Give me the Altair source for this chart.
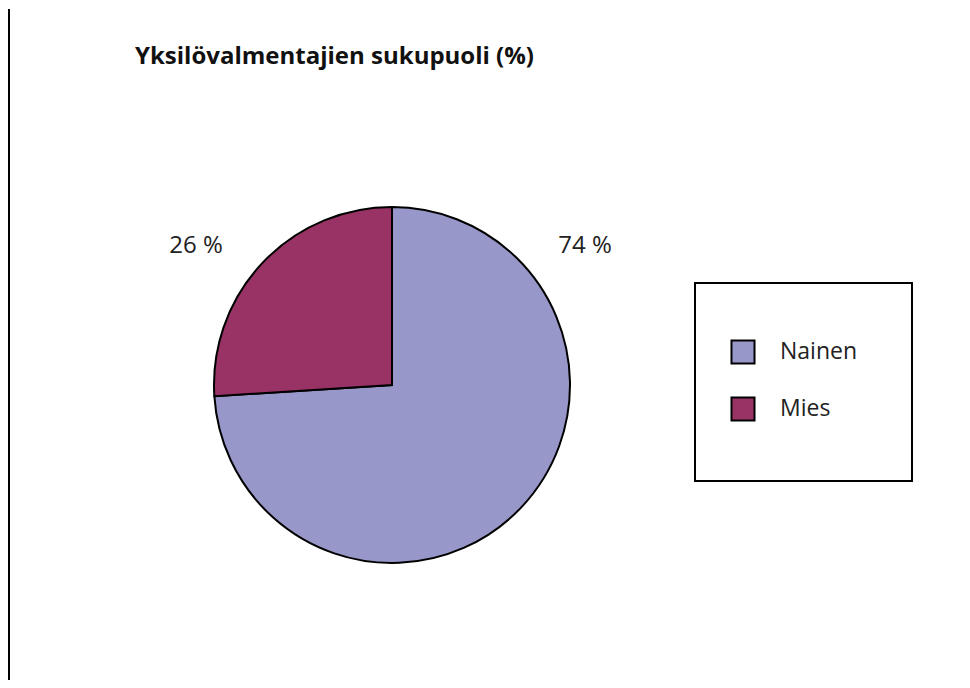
import altair as alt
import pandas as pd

categories = ["Nainen", "Mies"]
values = [74, 26]
label_texts = ["74 %", "26 %"]
colors = ["#9797C9", "#993366"]
title_text = "Yksilövalmentajien sukupuoli (%)"

df = pd.DataFrame({"sukupuoli": categories, "osuus": values, "order": [0, 1], "label": label_texts})

W, H = 954, 672
base = alt.Chart(df)

color_enc = alt.Color(
    "sukupuoli:N",
    scale=alt.Scale(domain=categories, range=colors),
    legend=alt.Legend(
        title=None, orient="none", legendX=722, legendY=330,
        symbolType="square", symbolSize=530, symbolStrokeColor="black",
        symbolStrokeWidth=2, labelFontSize=23, labelFont="Open Sans",
        labelColor="#222222", labelOffset=24, rowPadding=25,
    ),
)

pie = base.mark_arc(stroke="black", strokeWidth=2, radius=178).encode(
    theta=alt.Theta("osuus:Q", stack=True),
    color=color_enc,
    order=alt.Order("order:Q"),
    x=alt.value(384),
    y=alt.value(376),
)

lab_n = base.transform_filter(alt.datum.sukupuoli == "Nainen").mark_text(
    fontSize=24, font="Open Sans", color="#222222", align="center", baseline="middle"
).encode(text="label:N", x=alt.value(577), y=alt.value(237))

lab_m = base.transform_filter(alt.datum.sukupuoli == "Mies").mark_text(
    fontSize=24, font="Open Sans", color="#222222", align="center", baseline="middle"
).encode(text="label:N", x=alt.value(188), y=alt.value(237))

title = alt.Chart(pd.DataFrame({"t": [title_text]})).mark_text(
    fontSize=24, font="Open Sans", fontWeight="bold", color="#111111", align="left", baseline="middle"
).encode(text="t:N", x=alt.value(127), y=alt.value(48))

box = alt.Chart(pd.DataFrame({"k": [0]})).mark_rect(
    fill="white", stroke="black", strokeWidth=2
).encode(x=alt.value(687), x2=alt.value(904), y=alt.value(274), y2=alt.value(472))

vline = alt.Chart(pd.DataFrame({"k": [0]})).mark_rule(color="black", strokeWidth=2).encode(
    x=alt.value(1), y=alt.value(0), y2=alt.value(H)
)

chart = alt.layer(box, vline, pie, lab_n, lab_m, title).properties(
    width=W, height=H, padding=0,
    autosize=alt.AutoSizeParams(type="fit", contains="padding"),
).configure_view(stroke=None)

chart.save("out.html", embed_options={"renderer": "svg", "actions": False})
